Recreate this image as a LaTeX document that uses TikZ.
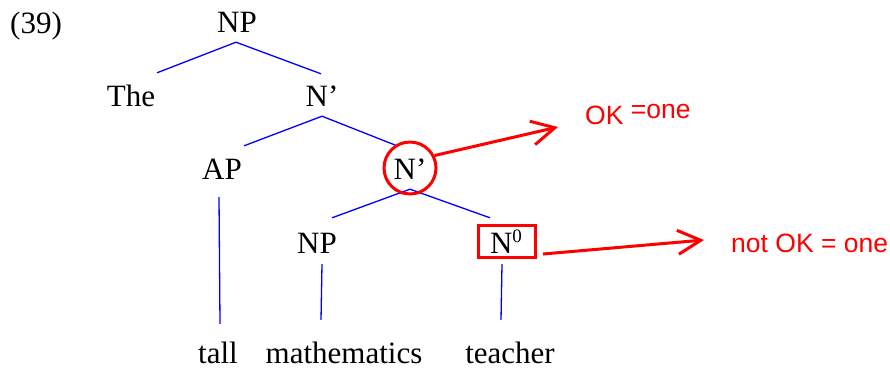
\documentclass[tikz,border=0pt]{standalone}
\usepackage{fontspec}
\setmainfont{Liberation Serif}
\newfontfamily\arialfont{Liberation Sans}
\usetikzlibrary{calc,arrows.meta}
\begin{document}
\begin{tikzpicture}[x=1pt,y=-1pt,
  word/.style={font=\fontsize{31}{31}\selectfont, inner sep=0pt, text height=20.5pt, text depth=0pt, anchor=base},
  branch/.style={draw=blue, line width=1.3pt},
  highlight/.style={draw=red, line width=3pt},
  pointer/.style={draw=red, line width=3pt, -{Straight Barb[length=23pt,width=24pt]}},
  note/.style={text=red, font=\arialfont\fontsize{26.5}{26.5}\selectfont, inner sep=0pt, anchor=base west}]
\useasboundingbox (0,0) rectangle (890,368);

% labels of the tree
\node[word] (ex) at (36,33) {(39)};
\node[word] (np1) at (237,32) {NP};
\node[word] (the) at (131,106) {The};
\node[word] (nbar1) at (322,106) {N’};
\node[word] (ap) at (222,179) {AP};
\node[word] (nbar2) at (410,179) {N’};
\node[word] (np2) at (317,253) {NP};
\node[word] (n0) at (506,253) {N\raisebox{11pt}{\fontsize{19}{19}\selectfont 0}};
\node[word] (tall) at (218,363) {tall};
\node[word] (math) at (344,363) {mathematics};
\node[word] (teacher) at (510,363) {teacher};

% branches
\draw[branch] ($(np1.south)+(-1,10)$) -- ($(the.north)+(26,-12.5)$);
\draw[branch] ($(np1.south)+(-1,10)$) -- ($(nbar1.north)+(-1,-11.5)$);
\draw[branch] ($(nbar1.south)+(0,10)$) -- ($(ap.north)+(22,-12.5)$);
\draw[branch] ($(nbar1.south)+(0,10)$) -- ($(nbar2.north)+(-13,-12.5)$);
\draw[branch] ($(nbar2.south)+(0,10)$) -- ($(np2.north)+(15,-14.5)$);
\draw[branch] ($(nbar2.south)+(0,10)$) -- ($(n0.north)+(-16,-14.5)$);
\draw[branch] ($(ap.south)+(-3,18)$) -- ($(tall.north)+(2,-18.5)$);
\draw[branch] ($(np2.south)+(5,11)$) -- ($(math.north)+(-23,-22.5)$);
\draw[branch] ($(n0.south)+(-4,11)$) -- ($(teacher.north)+(-9,-22.5)$);

% highlights
\node[highlight, circle, minimum size=52pt, inner sep=0pt] (ring) at (410,168) {};
\node[highlight, rectangle, minimum width=57pt, minimum height=32pt, inner sep=0pt] (box) at (507,241.5) {};

% pointers and notes
\coordinate (tip1) at (558,127);
\coordinate (tip2) at (704,240);
\draw[pointer] (ring.27) -- (tip1);
\draw[pointer] ($(box.south east)+(6,-5)$) -- (tip2);
\node[note] (ok) at (585,124) {OK \raisebox{6pt}{=one}};
\node[note] (notok) at (731,252) {not OK = one};
\end{tikzpicture}
\end{document}
